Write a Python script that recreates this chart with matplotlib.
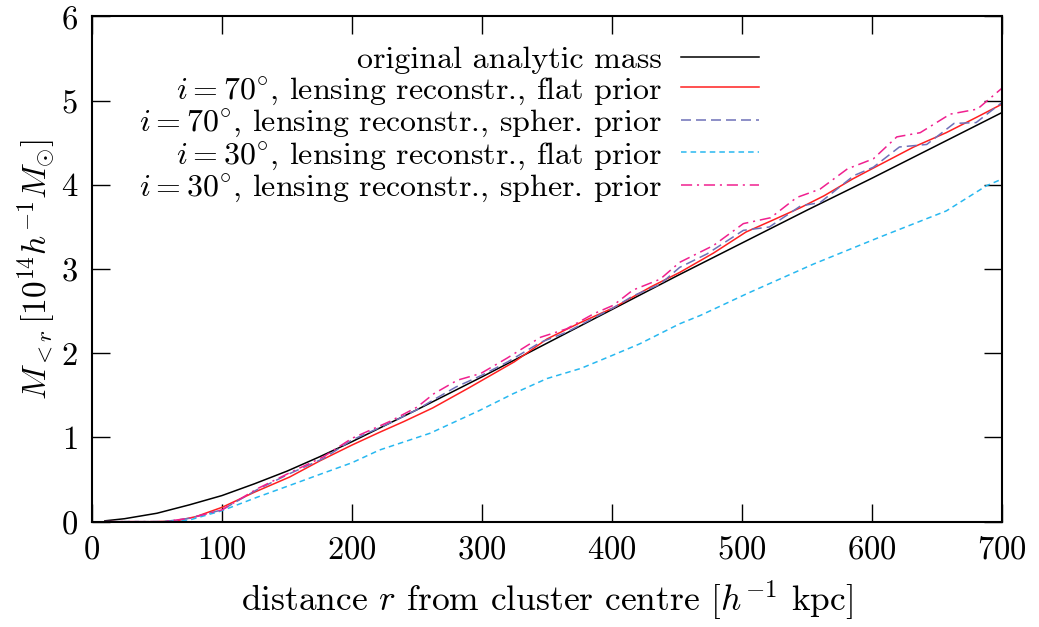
import numpy as np
import matplotlib

matplotlib.use("Agg")
import matplotlib.pyplot as plt

plt.rcParams["font.family"] = "cmr10"
plt.rcParams["mathtext.fontset"] = "cm"
plt.rcParams["axes.formatter.use_mathtext"] = True
plt.rcParams["lines.scale_dashes"] = False

# original analytic mass
r_analytic = [10, 25, 50, 75, 100, 125, 150, 175, 200, 250, 300, 350, 400, 450, 500, 550, 600, 650, 700]
m_analytic = [0.01, 0.035, 0.10, 0.20, 0.31, 0.45, 0.60, 0.77, 0.95, 1.33, 1.72, 2.12, 2.52, 2.92, 3.31, 3.70, 4.08, 4.47, 4.86]

# i = 70 deg, flat prior
r_70_flat = [10, 50, 65, 80, 100, 125, 152, 175, 200, 221, 240, 262, 290, 325, 350, 375, 401, 430, 452, 478,
             503, 522, 545, 563, 585, 601, 632, 657, 680, 700]
m_70_flat = [0, 0, 0.01, 0.06, 0.17, 0.35, 0.53, 0.72, 0.91, 1.06, 1.19, 1.35, 1.59, 1.90, 2.17, 2.36, 2.54, 2.79, 2.96, 3.19,
             3.44, 3.57, 3.73, 3.87, 4.07, 4.20, 4.45, 4.62, 4.80, 4.96]

# i = 70 deg, spherical prior
r_70_spher = [10, 55, 75, 100, 127, 152, 178, 200, 229, 250, 263, 280, 300, 320, 345, 365, 386, 401, 416, 437,
              452, 473, 501, 521, 545, 560, 586, 601, 621, 642, 663, 680, 700]
m_70_spher = [0, 0, 0.04, 0.14, 0.38, 0.57, 0.75, 0.97, 1.17, 1.33, 1.45, 1.60, 1.74, 1.90, 2.13, 2.25, 2.42, 2.54, 2.68, 2.82,
              3.02, 3.18, 3.46, 3.50, 3.75, 3.79, 4.11, 4.21, 4.45, 4.48, 4.73, 4.74, 4.98]

# i = 30 deg, flat prior
r_30_flat = [10, 55, 75, 100, 127, 152, 175, 200, 221, 260, 298, 324, 350, 376, 401, 421, 452, 468, 504, 555, 606, 657, 688, 700]
m_30_flat = [0, 0, 0.02, 0.13, 0.29, 0.43, 0.56, 0.70, 0.85, 1.05, 1.32, 1.52, 1.70, 1.82, 1.98, 2.11, 2.35, 2.45, 2.71, 3.06, 3.38, 3.69, 3.99, 4.07]

# i = 30 deg, spherical prior
r_30_spher = [10, 55, 75, 100, 127, 152, 178, 200, 229, 250, 263, 281, 299, 319, 345, 365, 386, 401, 416, 437,
              452, 478, 501, 522, 542, 560, 581, 601, 619, 637, 660, 681, 700]
m_30_spher = [0, 0, 0.04, 0.14, 0.39, 0.58, 0.77, 0.99, 1.19, 1.36, 1.52, 1.68, 1.76, 1.94, 2.19, 2.29, 2.47, 2.57, 2.75, 2.88,
              3.08, 3.28, 3.54, 3.61, 3.85, 3.95, 4.19, 4.31, 4.57, 4.62, 4.84, 4.90, 5.15]

labels = [
    "original analytic mass",
    r"$i=70^{\circ}$, lensing reconstr., flat prior",
    r"$i=70^{\circ}$, lensing reconstr., spher. prior",
    r"$i=30^{\circ}$, lensing reconstr., flat prior",
    r"$i=30^{\circ}$, lensing reconstr., spher. prior",
]

fig = plt.figure(figsize=(10.39, 6.27), dpi=100)
ax = fig.add_axes([0.0885, 0.168, 0.876, 0.8057])

lw = 1.1
ax.plot(r_analytic, m_analytic, color="black", lw=lw, label=labels[0])
ax.plot(r_70_flat, m_70_flat, color="#ff2020", lw=lw, label=labels[1])
ax.plot(r_70_spher, m_70_spher, color="#6e70b8", lw=lw, dashes=(7.2, 3.6), label=labels[2])
ax.plot(r_30_flat, m_30_flat, color="#28b8f0", lw=lw, dashes=(4.0, 2.9), label=labels[3])
ax.plot(r_30_spher, m_30_spher, color="#f0208f", lw=lw, dashes=(8, 3.5, 1.5, 3.5), label=labels[4])

ax.set_xlim(0, 700)
ax.set_ylim(0, 6)
ax.set_xticks(np.arange(0, 701, 100))
ax.set_yticks(np.arange(0, 7, 1))
ax.tick_params(direction="in", length=13, width=1.0, top=True, right=True, labelsize=23.5, pad=10)
for sp in ax.spines.values():
    sp.set_linewidth(1.5)

ax.set_xlabel(r"distance $r$ from cluster centre [$h^{-1}$ kpc]", fontsize=25.5, labelpad=10)
ax.set_ylabel(r"$M_{<r}\,[10^{14}h^{-1}M_{\odot}]$", fontsize=24, labelpad=2)

ax.legend(loc="upper right", bbox_to_anchor=(0.758, 0.986), frameon=False, markerfirst=False,
          fontsize=23, handlelength=2.45, handletextpad=0.6, labelspacing=0.03, borderpad=0.2)

fig.savefig("out.png", dpi=100)
